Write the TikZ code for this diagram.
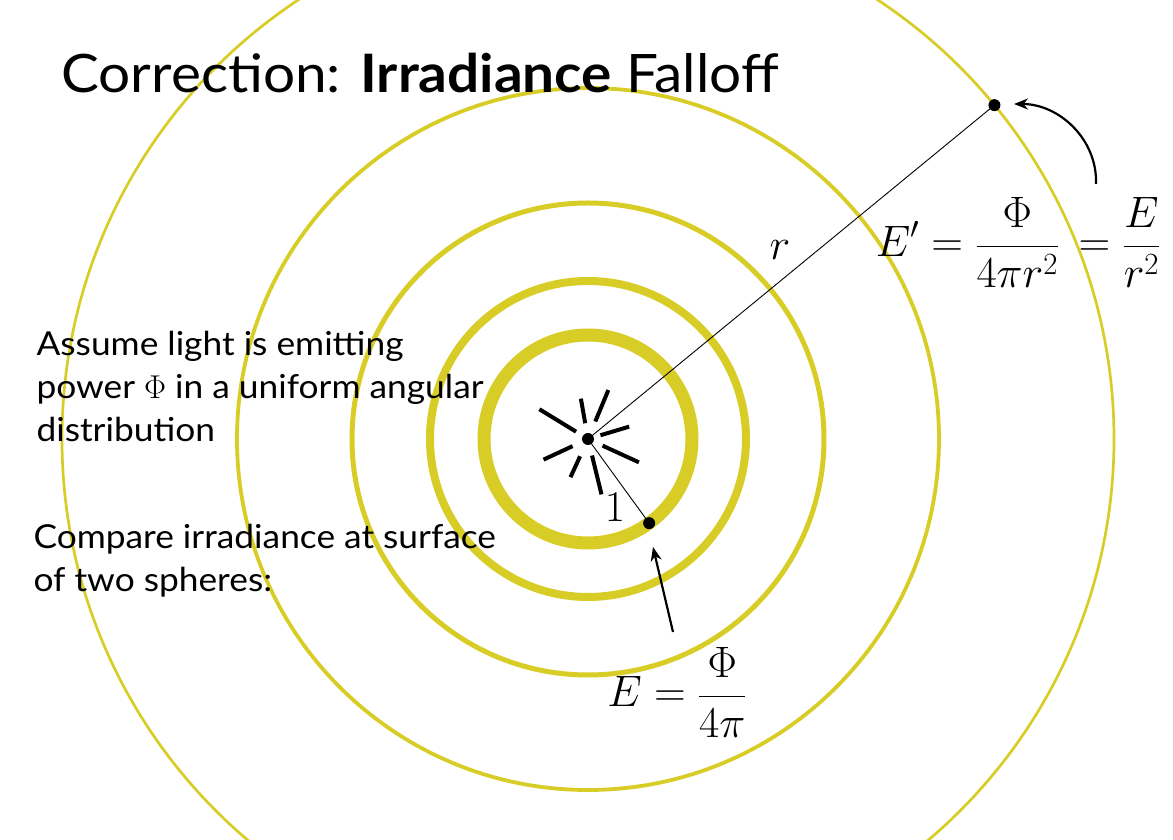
\RequirePackage{fix-cm}
\documentclass[tikz,border=0pt]{standalone}
\usepackage[no-math]{fontspec}
\usetikzlibrary{arrows.meta}
\newfontfamily\slidefont[FakeStretch=1.07]{Lato}
\definecolor{ringyellow}{RGB}{216,205,38}

\begin{document}
\begin{tikzpicture}[x=1pt,y=1pt,
  font=\fontsize{44}{52}\selectfont,
  ring/.style={draw=ringyellow},
  ray/.style={line width=4pt},
  pointer/.style={line width=2.2pt,-{Stealth[length=14pt,width=11pt]}},
  dot/.style={circle,fill,inner sep=0pt,minimum size=12pt},
  slidetext/.style={anchor=base west,align=left,font=\slidefont\fontsize{33}{43}\selectfont}]
\useasboundingbox (-588,-401) rectangle (585,439);
\clip (-588,-401) rectangle (585,439);

\draw[ring,line width=13pt] (0,0) circle[radius=104];
\draw[ring,line width=8pt] (0,0) circle[radius=158];
\draw[ring,line width=5pt] (0,0) circle[radius=236];
\draw[ring,line width=3.8pt] (0,0) circle[radius=351];
\draw[ring,line width=2.7pt] (0,0) circle[radius=526];

\foreach \a/\s/\e in {148.5/14/57, 100/16/41, 67.4/19/53, 16.7/13/43,
  -24.6/16/56, -76.3/17/57, -114.6/19/42, -155.1/17/49}
  \draw[ray] (\a:\s) -- (\a:\e);

\node[dot] (src) at (0,0) {};
\node[dot] (far) at (39.4:526) {};
\node[dot] (near) at (-54:104) {};
\draw[line width=0.9pt] (src.center) -- (far.center);
\draw[line width=0.9pt] (src.center) -- (near.center);

\node (rlab) at (192,189) {$r$};
\node (onelab) at (27,-68) {$1$};

\node (eprime) at (430,197) {$\displaystyle E' = \frac{\Phi}{4\pi r^2}\,= \frac{E}{r^2}$};
\node (enear) at (89,-253) {$\displaystyle E = \frac{\Phi}{4\pi}$};

\coordinate (ctail) at (508,255);
\coordinate (ctip) at (426,335);
\draw[pointer] (ctail) to[out=88,in=0] (ctip);
\coordinate (stail) at (85,-193);
\coordinate (stip) at (65,-108);
\draw[pointer] (stail) -- (stip);

\node[anchor=base west,font=\slidefont\fontsize{53}{60}\selectfont] (title) at (-530,346)
  {Correction: \textbf{Irradiance} Falloff};
\node[slidetext] (assume) at (-555,-3)
  {Assume light is emitting\\power $\Phi$ in a uniform angular\\distribution};
\node[slidetext] (compare) at (-558,-153)
  {Compare irradiance at surface\\of two spheres:};

\end{tikzpicture}
\end{document}
